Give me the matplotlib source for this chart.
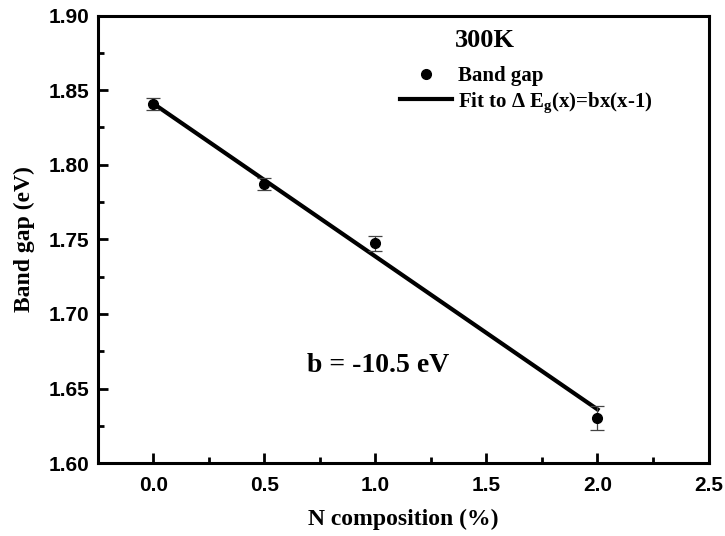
import numpy as np
import matplotlib.pyplot as plt
from matplotlib.ticker import MultipleLocator
from matplotlib.lines import Line2D

# data
n_comp = [0.0, 0.5, 1.0, 2.0]
band_gap = [1.8405, 1.787, 1.7475, 1.6305]
gap_err = [0.004, 0.004, 0.005, 0.008]

fit_x = [0.0, 2.0]
fit_y = [1.841, 1.636]

plt.rcParams['mathtext.fontset'] = 'custom'
plt.rcParams['mathtext.rm'] = 'Liberation Serif:bold'
plt.rcParams['mathtext.it'] = 'Liberation Serif:bold'
plt.rcParams['mathtext.bf'] = 'Liberation Serif:bold'
plt.rcParams['mathtext.default'] = 'regular'

serif = {'family': 'Liberation Serif', 'weight': 'bold'}

fig = plt.figure(figsize=(7.25, 5.36), dpi=100)
ax = fig.add_axes([0.1349, 0.136, 0.8424, 0.835])

ax.errorbar(n_comp, band_gap, yerr=gap_err, fmt='o', color='black',
            markersize=7, ecolor='#444444', elinewidth=0.9, capsize=5,
            capthick=0.9, zorder=3)
fit_line, = ax.plot(fit_x, fit_y, '-', color='black', lw=3)

ax.set_xlim(-0.25, 2.5)
ax.set_ylim(1.60, 1.90)
ax.xaxis.set_major_locator(MultipleLocator(0.5))
ax.xaxis.set_minor_locator(MultipleLocator(0.25))
ax.yaxis.set_major_locator(MultipleLocator(0.05))
ax.yaxis.set_minor_locator(MultipleLocator(0.025))
ax.tick_params(which='both', direction='in', width=2, top=False, right=False)
ax.tick_params(which='major', length=7, labelsize=15, pad=6)
ax.tick_params(which='minor', length=4)
ax.tick_params(axis='x', which='major', pad=9)
for lab in ax.get_xticklabels() + ax.get_yticklabels():
    lab.set_fontfamily('Liberation Sans')
    lab.set_fontweight('bold')
ax.xaxis.set_major_formatter(plt.FormatStrFormatter('%.1f'))
ax.yaxis.set_major_formatter(plt.FormatStrFormatter('%.2f'))
for s in ax.spines.values():
    s.set_linewidth(2.2)

ax.set_xlabel('N composition (%)', fontdict=serif, fontsize=17, labelpad=10)
ax.set_ylabel('Band gap (eV)', fontdict=serif, fontsize=17, labelpad=10)

ax.text(0.585, 0.945, '300K', transform=ax.transAxes, fontdict=serif, fontsize=19,
        ha='left', va='center')
ax.text(0.692, 1.6657, 'b = -10.5 eV', fontdict=serif, fontsize=20, ha='left', va='center')

pt_handle = Line2D([], [], marker='o', ls='none', color='black', markersize=7)
leg = ax.legend([pt_handle, fit_line], ['Band gap', 'Fit to $\\Delta$ E$_g$(x)=bx(x-1)'],
                loc='upper left', bbox_to_anchor=(0.495, 0.887), frameon=False,
                prop={'family': 'Liberation Serif', 'weight': 'bold', 'size': 15},
                handlelength=2.5, handletextpad=0.3, borderpad=0, borderaxespad=0,
                labelspacing=0.2, numpoints=1)

fig.savefig('out.png', dpi=100)
